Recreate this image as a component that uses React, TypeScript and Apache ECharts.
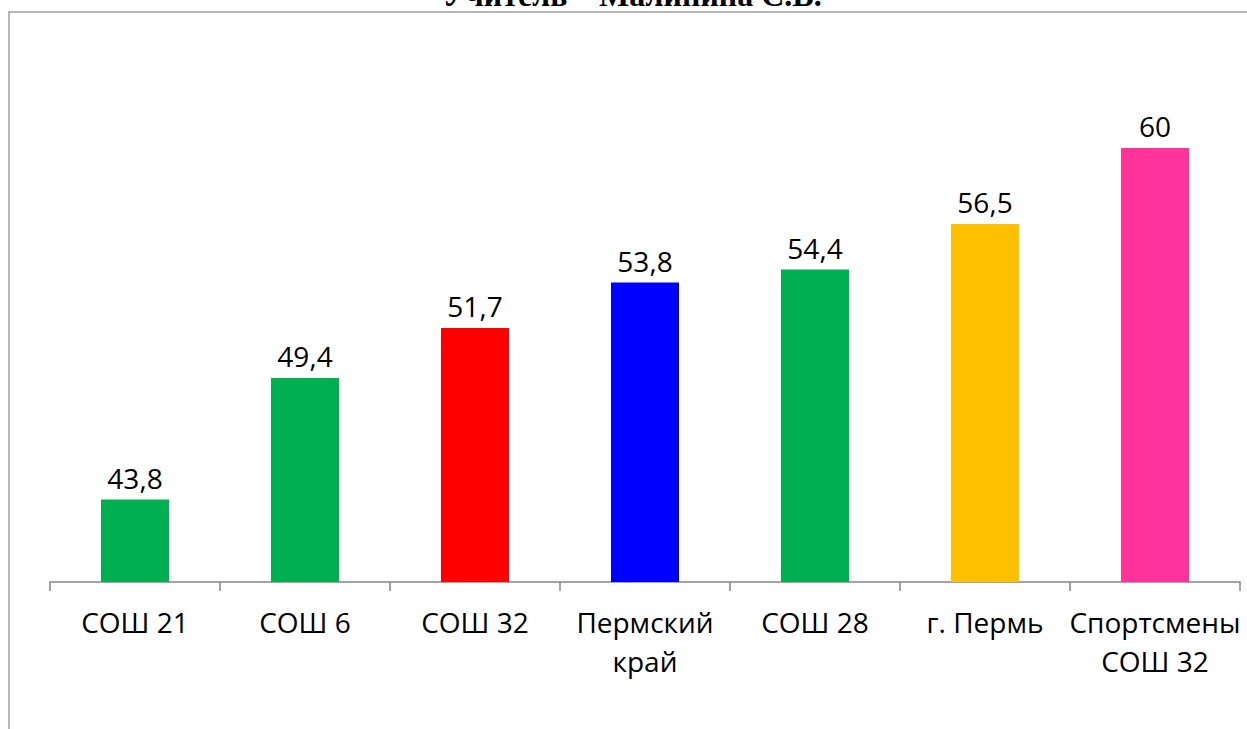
import React, { useEffect, useRef } from "react";
import * as echarts from "echarts";

const categories = ["СОШ 21", "СОШ 6", "СОШ 32", "Пермский\nкрай", "СОШ 28", "г. Пермь", "Спортсмены\nСОШ 32"];
const values = [43.8, 49.4, 51.7, 53.8, 54.4, 56.5, 60];
const colors = ["#00B050", "#00B050", "#FF0000", "#0000FF", "#00B050", "#FFC000", "#FF3399"];
const titleText = "Учитель – Малинина С.В.";

export default function App() {
  const ref = useRef<HTMLDivElement>(null);
  useEffect(() => {
    const chart = echarts.init(ref.current!, null, { renderer: "svg" });
    chart.setOption({
      animation: false,
      grid: { left: 50, right: 7, top: 39.5, bottom: 147 },
      xAxis: {
        type: "category",
        data: categories,
        axisLine: { lineStyle: { color: "#868686", width: 1.5 } },
        axisTick: { show: true, length: 9, lineStyle: { color: "#868686", width: 1.5 } },
        axisLabel: {
          color: "#000",
          fontSize: 28,
          lineHeight: 39,
          margin: 20,
          fontFamily: "Open Sans, Lato, sans-serif",
          interval: 0,
        },
      },
      yAxis: {
        type: "value",
        min: 40,
        max: 65,
        show: false,
        splitLine: { show: false },
      },
      series: [
        {
          type: "bar",
          barWidth: 68,
          data: values.map((v, i) => ({ value: v, itemStyle: { color: colors[i] } })),
          label: {
            show: true,
            position: "top",
            distance: 8,
            color: "#000",
            fontSize: 28,
            lineHeight: 28,
            fontFamily: "Open Sans, Lato, sans-serif",
            formatter: (p: any) => String(p.value).replace(".", ","),
          },
        },
      ],
      graphic: [
        {
          type: "rect",
          shape: { x: 9, y: 12, width: 1250, height: 800 },
          style: { fill: "none", stroke: "#A0A0A0", lineWidth: 1.5 },
          silent: true,
        },
        {
          type: "text",
          x: 632,
          y: 10.5,
          style: {
            text: titleText,
            font: "bold 32px 'Liberation Serif', 'Times New Roman', serif",
            fill: "#000",
            align: "center",
            verticalAlign: "bottom",
          },
        },
      ],
    });
    return () => chart.dispose();
  }, []);
  return (
    <div
      ref={ref}
      style={{ position: "fixed", left: 0, top: 0, width: 1247, height: 729, background: "#fff" }}
    />
  );
}
